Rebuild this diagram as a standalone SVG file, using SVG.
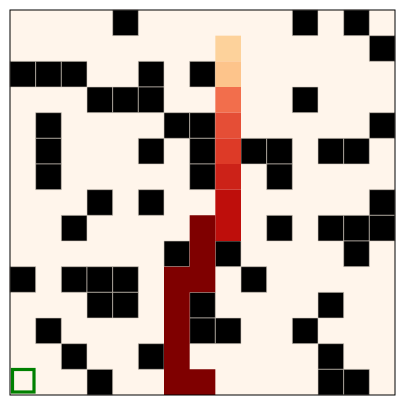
<svg xmlns="http://www.w3.org/2000/svg" width="405" height="405" viewBox="0 0 405 405">
<style>
.w{fill:#000;stroke:#d4cbc0;stroke-width:0.6}
.p{stroke:none}
.d{fill:#7f0000}
</style>
<rect width="405" height="405" fill="#fff"/>
<rect x="10" y="10" width="385" height="385" fill="#fff5eb"/>
<g id="grid" transform="translate(10,10) scale(25.6667)">
<g id="walls" class="w">
<rect x="4" y="0" width="1" height="1" vector-effect="non-scaling-stroke"/>
<rect x="11" y="0" width="1" height="1" vector-effect="non-scaling-stroke"/>
<rect x="13" y="0" width="1" height="1" vector-effect="non-scaling-stroke"/>
<rect x="14" y="1" width="1" height="1" vector-effect="non-scaling-stroke"/>
<rect x="0" y="2" width="1" height="1" vector-effect="non-scaling-stroke"/>
<rect x="1" y="2" width="1" height="1" vector-effect="non-scaling-stroke"/>
<rect x="2" y="2" width="1" height="1" vector-effect="non-scaling-stroke"/>
<rect x="5" y="2" width="1" height="1" vector-effect="non-scaling-stroke"/>
<rect x="7" y="2" width="1" height="1" vector-effect="non-scaling-stroke"/>
<rect x="3" y="3" width="1" height="1" vector-effect="non-scaling-stroke"/>
<rect x="4" y="3" width="1" height="1" vector-effect="non-scaling-stroke"/>
<rect x="5" y="3" width="1" height="1" vector-effect="non-scaling-stroke"/>
<rect x="11" y="3" width="1" height="1" vector-effect="non-scaling-stroke"/>
<rect x="1" y="4" width="1" height="1" vector-effect="non-scaling-stroke"/>
<rect x="6" y="4" width="1" height="1" vector-effect="non-scaling-stroke"/>
<rect x="7" y="4" width="1" height="1" vector-effect="non-scaling-stroke"/>
<rect x="14" y="4" width="1" height="1" vector-effect="non-scaling-stroke"/>
<rect x="1" y="5" width="1" height="1" vector-effect="non-scaling-stroke"/>
<rect x="5" y="5" width="1" height="1" vector-effect="non-scaling-stroke"/>
<rect x="7" y="5" width="1" height="1" vector-effect="non-scaling-stroke"/>
<rect x="9" y="5" width="1" height="1" vector-effect="non-scaling-stroke"/>
<rect x="10" y="5" width="1" height="1" vector-effect="non-scaling-stroke"/>
<rect x="12" y="5" width="1" height="1" vector-effect="non-scaling-stroke"/>
<rect x="13" y="5" width="1" height="1" vector-effect="non-scaling-stroke"/>
<rect x="1" y="6" width="1" height="1" vector-effect="non-scaling-stroke"/>
<rect x="7" y="6" width="1" height="1" vector-effect="non-scaling-stroke"/>
<rect x="10" y="6" width="1" height="1" vector-effect="non-scaling-stroke"/>
<rect x="3" y="7" width="1" height="1" vector-effect="non-scaling-stroke"/>
<rect x="5" y="7" width="1" height="1" vector-effect="non-scaling-stroke"/>
<rect x="14" y="7" width="1" height="1" vector-effect="non-scaling-stroke"/>
<rect x="2" y="8" width="1" height="1" vector-effect="non-scaling-stroke"/>
<rect x="10" y="8" width="1" height="1" vector-effect="non-scaling-stroke"/>
<rect x="12" y="8" width="1" height="1" vector-effect="non-scaling-stroke"/>
<rect x="13" y="8" width="1" height="1" vector-effect="non-scaling-stroke"/>
<rect x="14" y="8" width="1" height="1" vector-effect="non-scaling-stroke"/>
<rect x="6" y="9" width="1" height="1" vector-effect="non-scaling-stroke"/>
<rect x="8" y="9" width="1" height="1" vector-effect="non-scaling-stroke"/>
<rect x="13" y="9" width="1" height="1" vector-effect="non-scaling-stroke"/>
<rect x="0" y="10" width="1" height="1" vector-effect="non-scaling-stroke"/>
<rect x="2" y="10" width="1" height="1" vector-effect="non-scaling-stroke"/>
<rect x="3" y="10" width="1" height="1" vector-effect="non-scaling-stroke"/>
<rect x="4" y="10" width="1" height="1" vector-effect="non-scaling-stroke"/>
<rect x="9" y="10" width="1" height="1" vector-effect="non-scaling-stroke"/>
<rect x="3" y="11" width="1" height="1" vector-effect="non-scaling-stroke"/>
<rect x="4" y="11" width="1" height="1" vector-effect="non-scaling-stroke"/>
<rect x="7" y="11" width="1" height="1" vector-effect="non-scaling-stroke"/>
<rect x="12" y="11" width="1" height="1" vector-effect="non-scaling-stroke"/>
<rect x="1" y="12" width="1" height="1" vector-effect="non-scaling-stroke"/>
<rect x="7" y="12" width="1" height="1" vector-effect="non-scaling-stroke"/>
<rect x="8" y="12" width="1" height="1" vector-effect="non-scaling-stroke"/>
<rect x="11" y="12" width="1" height="1" vector-effect="non-scaling-stroke"/>
<rect x="2" y="13" width="1" height="1" vector-effect="non-scaling-stroke"/>
<rect x="5" y="13" width="1" height="1" vector-effect="non-scaling-stroke"/>
<rect x="12" y="13" width="1" height="1" vector-effect="non-scaling-stroke"/>
<rect x="3" y="14" width="1" height="1" vector-effect="non-scaling-stroke"/>
<rect x="12" y="14" width="1" height="1" vector-effect="non-scaling-stroke"/>
<rect x="13" y="14" width="1" height="1" vector-effect="non-scaling-stroke"/>
</g>
<g id="path" class="p">
<rect x="8" y="1" width="1" height="1" fill="#fdd29b"/>
<rect x="8" y="2" width="1" height="1" fill="#fdc48b"/>
<rect x="8" y="3" width="1" height="1" fill="#f26e4c"/>
<rect x="8" y="4" width="1" height="1" fill="#e54e36"/>
<rect x="8" y="5" width="1" height="1" fill="#dd3a27"/>
<rect x="8" y="6" width="1" height="1" fill="#cc2218"/>
<rect x="8" y="7" width="1" height="2" fill="#be0e0b"/>
<path class="d" d="M7,8 H8 V11 H7 V14 H8 V15 H6 V10 H7 Z"/>
</g>
</g>
<rect id="start" x="12.5" y="369.5" width="21.5" height="22.5" fill="none" stroke="#008000" stroke-width="3.2"/>
<rect id="frame" x="10" y="10" width="385" height="385" fill="none" stroke="#000" stroke-width="1"/>
</svg>
